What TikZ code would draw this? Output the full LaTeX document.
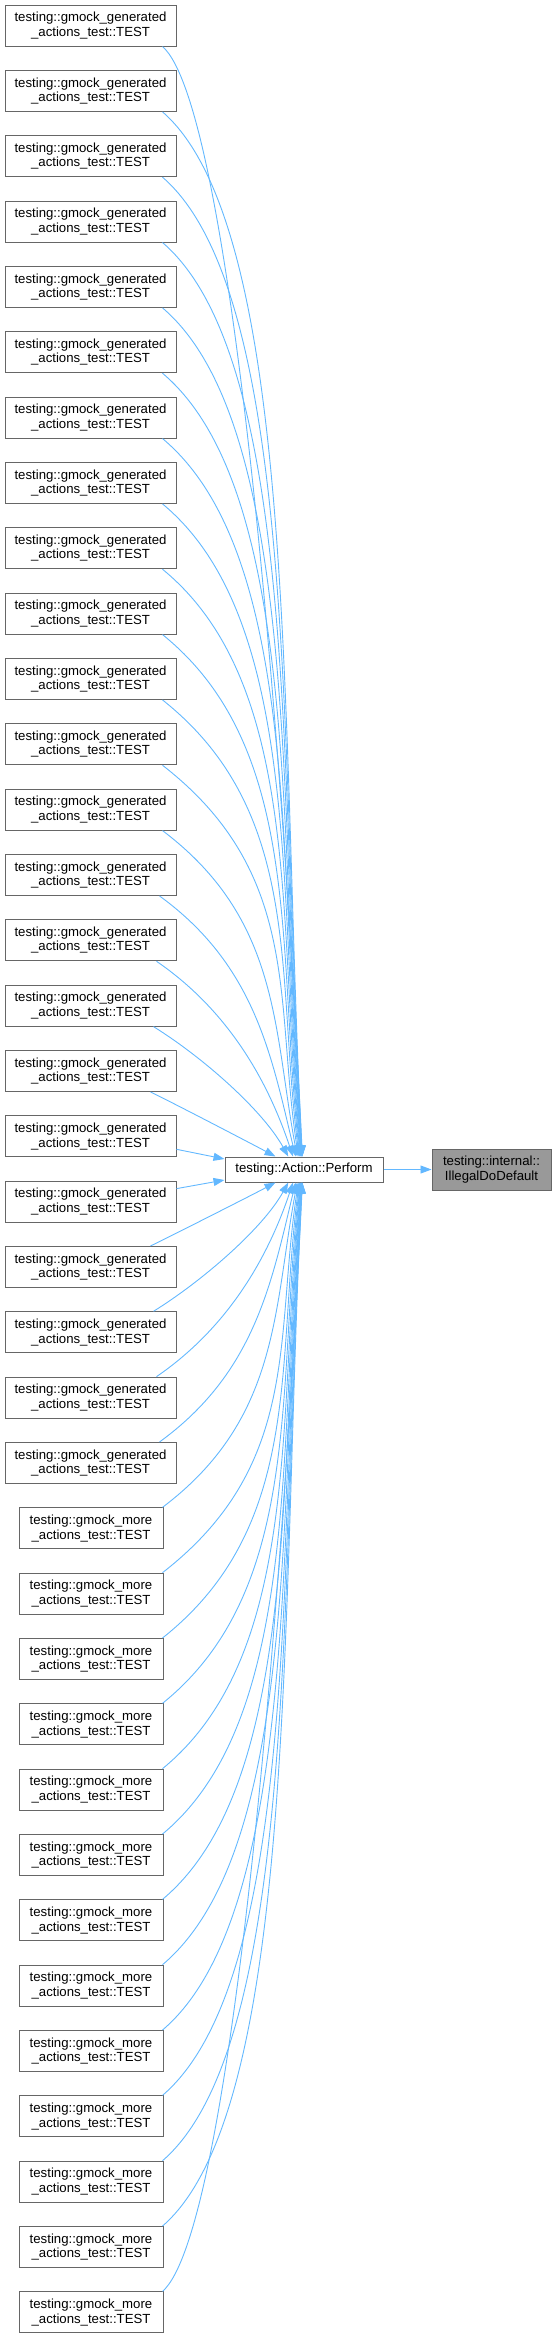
\documentclass[tikz,border=0pt]{standalone}
\usepackage{fontspec}
\setmainfont{Liberation Sans}
\usetikzlibrary{arrows.meta,calc}
\definecolor{edgeblue}{HTML}{63B8FF}
\definecolor{boxgray}{HTML}{666666}
\definecolor{hlfill}{HTML}{999999}
\begin{document}
\begin{tikzpicture}[x=1pt,y=-1pt,
  every node/.style={font=\fontsize{13.2}{14.5}\selectfont, align=center, inner sep=0pt},
  genbox/.style={draw=boxgray, line width=1pt, fill=white, minimum width=171pt, minimum height=41pt},
  morebox/.style={genbox, minimum width=144pt},
  perfbox/.style={genbox, minimum width=158pt, minimum height=25pt},
  hlbox/.style={genbox, fill=hlfill, minimum width=119pt},
  edge/.style={draw=edgeblue, line width=0.9pt, -{Triangle[length=11pt,width=8pt]}}]
\useasboundingbox (0,0) rectangle (556,2338);
\node[perfbox] (P) at (304,1169.5) {testing::Action::Perform};
\node[hlbox] (I) at (491.5,1169.5) {testing::internal::\\IllegalDoDefault};
\draw[edge] (P) -- (I);
\foreach \i in {0,...,35}{
  \pgfmathsetmacro{\yc}{25.5+65.34*\i}
  \ifnum\i<23
    \node[genbox] (b\i) at (90.5,\yc) {testing::gmock\_generated\\\_actions\_test::TEST};
  \else
    \node[morebox] (b\i) at (91,\yc) {testing::gmock\_more\\\_actions\_test::TEST};
  \fi
}
\foreach \i in {0,...,35}{
  \ifnum\i<18
    \def\s{1}\pgfmathtruncatemacro{\k}{17-\i}\def\anc{south west}\def\panc{north west}
  \else
    \def\s{-1}\pgfmathtruncatemacro{\k}{\i-18}\def\anc{north west}\def\panc{south west}
  \fi
  \ifnum\k=0
    \pgfmathsetmacro{\ysa}{-13*\s}
    \pgfmathsetmacro{\ysb}{10.5*\s}
    \draw[edge] ([yshift=\ysa pt]b\i.east) -- ([yshift=\ysb pt]P.west);
  \else
    \pgfmathsetmacro{\yc}{25.5+65.34*\i}
    \pgfmathsetmacro{\sx}{163-3*max(0,5-\k)}
    \pgfmathsetmacro{\sxo}{\sx-(\i<23 ? 5 : 19)}
    \pgfmathsetmacro{\tx}{306-30/(\k^0.8)}
    \pgfmathsetmacro{\txo}{\tx-225}
    \pgfmathsetmacro{\ta}{46-20/sqrt(\k)}
    \pgfmathsetmacro{\tb}{90-62/(\k^1.1)}
    \pgfmathsetmacro{\sy}{\yc+20.5*\s}
    \pgfmathsetmacro{\ty}{1169.5-12.5*\s}
    \pgfmathsetmacro{\D}{abs(\ty-\sy)}
    \pgfmathsetmacro{\La}{\k==17 ? 90 : min(0.45*\D,180)}
    \pgfmathsetmacro{\Lb}{0.4*\D}
    \pgfmathsetmacro{\ax}{\La*cos(\ta)}
    \pgfmathsetmacro{\ay}{\s*\La*sin(\ta)}
    \pgfmathsetmacro{\bx}{-\Lb*cos(\tb)}
    \pgfmathsetmacro{\by}{-\s*\Lb*sin(\tb)}
    \draw[edge] ([xshift=\sxo pt]b\i.\anc) .. controls +(\ax,\ay) and +(\bx,\by) .. ([xshift=\txo pt]P.\panc);
  \fi
}
\end{tikzpicture}
\end{document}
